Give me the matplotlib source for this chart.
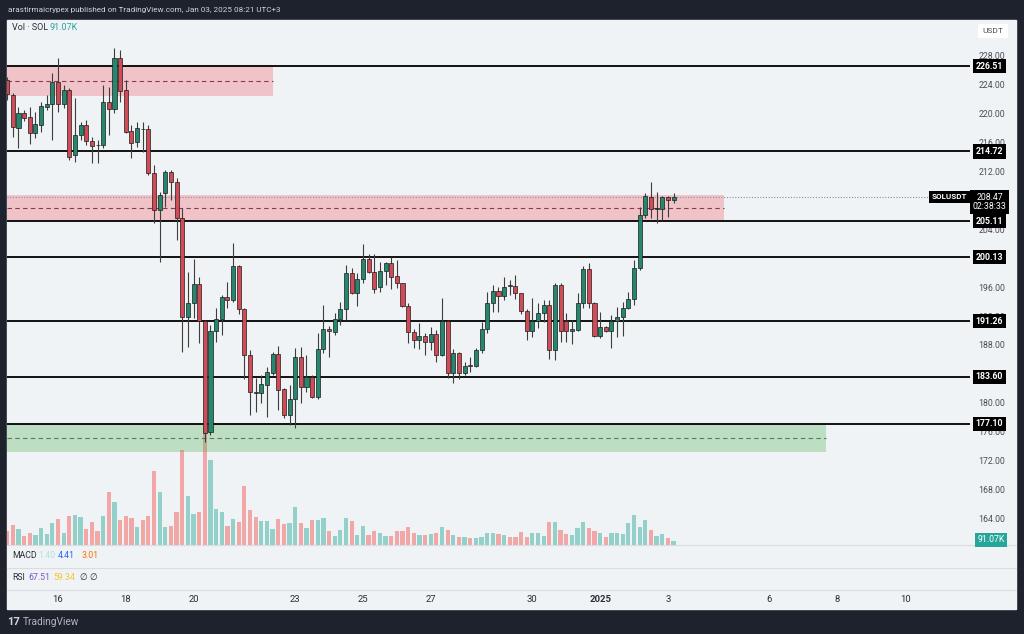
import matplotlib.pyplot as plt
from matplotlib.patches import Rectangle
from matplotlib.lines import Line2D
from matplotlib.transforms import blended_transform_factory
import numpy as np
from datetime import datetime, timedelta

plt.rcParams['font.family'] = ['Roboto', 'DejaVu Sans']

W, H = 1024, 634

# SOL/USDT 4h bars, first bar 2024-12-14 12:00
start = datetime(2024, 12, 14, 12)
bar_hours = 4

opens = [224.58, 222.51, 217.95, 220.02, 219.47, 217.26, 218.37, 220.85, 221.27, 224.30,
         221.27, 223.20, 214.23, 216.98, 218.37, 216.16, 215.61, 215.61, 221.54, 220.58,
         227.61, 223.20, 217.54, 216.02, 217.81, 217.81, 211.74, 206.63, 208.98, 211.88,
         210.50, 205.53, 191.86, 193.80, 196.42, 191.31, 175.99, 189.93, 191.59, 194.62,
         194.21, 198.90, 192.97, 186.62, 181.51, 181.38, 182.48, 184.13, 186.76, 181.93,
         178.34, 180.55, 186.34, 182.20, 183.58, 180.82, 187.45, 190.21, 189.79, 191.59,
         192.97, 197.94, 195.18, 197.11, 199.87, 198.08, 195.98, 198.21, 199.32, 197.53,
         196.56, 193.38, 189.79, 188.69, 189.24, 188.41, 189.52, 186.62, 191.31, 184.13,
         186.90, 184.13, 185.10, 185.10, 187.31, 190.21, 193.80, 195.45, 194.76, 196.14,
         196.14, 195.18, 192.69, 189.93, 191.31, 192.42, 193.52, 187.31, 196.28, 191.31,
         189.93, 190.07, 193.80, 198.49, 193.80, 189.24, 190.48, 189.93, 191.31, 191.86,
         193.11, 194.35, 198.63, 205.95, 208.43, 206.77, 206.77, 208.43, 208.01]
closes = [222.65, 218.09, 220.02, 219.33, 217.26, 218.50, 220.99, 221.27, 224.30, 221.27,
          223.20, 213.95, 216.98, 218.37, 216.16, 215.47, 215.54, 221.54, 220.58, 227.61,
          223.06, 217.40, 215.88, 217.95, 217.75, 211.74, 206.63, 208.71, 211.88, 210.50,
          205.53, 191.86, 193.80, 196.42, 191.31, 175.85, 189.93, 191.59, 194.62, 194.21,
          198.90, 192.97, 186.62, 181.51, 181.38, 182.62, 184.27, 186.76, 181.79, 178.34,
          180.55, 186.34, 182.20, 183.58, 180.82, 187.45, 190.21, 189.93, 191.59, 192.97,
          197.94, 195.18, 197.11, 199.87, 198.08, 195.73, 198.21, 199.32, 197.39, 196.56,
          193.38, 189.79, 188.69, 189.24, 188.41, 189.52, 186.62, 191.31, 184.13, 186.90,
          184.13, 185.10, 185.06, 187.31, 190.21, 193.80, 195.45, 194.76, 196.01, 196.10,
          195.18, 192.69, 189.93, 191.31, 192.42, 193.52, 187.31, 196.28, 189.93, 189.93,
          190.21, 193.80, 198.49, 193.80, 189.24, 190.48, 189.93, 191.31, 191.86, 193.11,
          194.35, 198.63, 205.95, 208.57, 206.77, 206.80, 208.43, 208.01, 208.47]
highs = [225.00, 222.78, 220.85, 220.44, 220.85, 220.16, 221.54, 222.51, 225.54, 227.61,
         223.89, 223.47, 222.09, 218.78, 219.06, 216.71, 216.30, 223.89, 223.61, 228.99,
         228.72, 224.58, 218.37, 218.78, 218.78, 218.37, 212.85, 209.12, 212.15, 212.15,
         211.05, 206.91, 198.08, 199.87, 197.39, 191.45, 190.76, 193.11, 194.90, 196.70,
         202.08, 199.04, 193.11, 187.31, 183.45, 183.86, 184.96, 187.03, 187.86, 182.07,
         182.48, 187.59, 187.72, 186.62, 183.86, 189.66, 193.52, 190.62, 192.42, 193.94,
         199.04, 198.63, 197.94, 201.94, 200.56, 200.56, 199.46, 199.46, 200.15, 199.74,
         196.56, 193.80, 190.21, 191.04, 189.66, 190.48, 190.07, 194.49, 191.45, 187.45,
         187.03, 185.65, 186.34, 187.59, 191.17, 195.31, 196.28, 196.01, 197.39, 196.97,
         197.66, 195.18, 192.97, 194.49, 193.80, 194.21, 194.21, 196.56, 196.56, 192.42,
         191.45, 195.18, 198.90, 199.32, 193.94, 192.55, 190.62, 192.14, 193.25, 193.94,
         195.31, 199.74, 207.05, 208.98, 210.50, 209.12, 208.50, 208.57, 208.98]
lows = [221.80, 216.71, 215.19, 218.92, 215.74, 216.57, 217.40, 220.44, 216.30, 220.16,
        220.71, 213.54, 213.26, 216.30, 215.61, 213.12, 213.12, 215.19, 216.98, 220.02,
        221.54, 217.26, 213.81, 215.33, 214.64, 211.46, 204.84, 199.46, 207.05, 208.01,
        202.49, 187.03, 187.72, 191.73, 188.28, 174.61, 175.58, 188.41, 189.38, 193.11,
        193.90, 192.28, 183.31, 178.34, 178.75, 179.99, 178.06, 183.86, 179.03, 177.92,
        176.96, 176.54, 179.99, 181.51, 180.70, 180.60, 186.90, 186.34, 189.38, 190.76,
        191.45, 195.00, 193.38, 196.56, 197.94, 195.18, 195.31, 196.28, 195.73, 195.87,
        193.25, 188.28, 187.59, 187.45, 186.62, 187.31, 185.65, 186.48, 183.45, 182.76,
        183.31, 183.86, 184.27, 184.96, 186.90, 189.66, 192.55, 192.55, 194.21, 194.90,
        194.35, 192.28, 188.69, 189.10, 190.35, 191.17, 186.07, 185.93, 188.41, 188.41,
        188.14, 189.90, 193.11, 193.11, 189.10, 188.97, 189.79, 187.59, 189.10, 189.24,
        192.97, 193.52, 198.35, 205.53, 205.53, 204.84, 205.26, 205.67, 207.60]
volumes_k = [327, 456, 357, 205, 281, 228, 380, 243, 509, 585,
             281, 669, 684, 631, 357, 532, 327, 669, 1201, 988,
             570, 661, 608, 403, 570, 669, 1695, 1201, 403, 433,
             760, 2166, 1117, 707, 760, 2690, 1938, 821, 760, 441,
             585, 532, 1345, 798, 631, 547, 547, 365, 585, 471,
             509, 859, 509, 380, 570, 570, 608, 327, 213, 342,
             608, 547, 228, 441, 228, 327, 266, 205, 213, 327,
             327, 403, 266, 228, 228, 251, 266, 403, 342, 228,
             190, 190, 167, 152, 175, 266, 281, 251, 228, 190,
             190, 289, 190, 266, 281, 213, 532, 532, 342, 251,
             228, 380, 532, 380, 327, 266, 175, 266, 266, 251,
             509, 684, 418, 570, 342, 205, 251, 152, 91.07]

levels = [226.51, 214.72, 205.11, 200.13, 191.26, 183.60, 177.10]
zones = [  # (low, high, end date, colour)
    (222.37, 226.51, datetime(2024, 12, 22, 8), 'red'),
    (205.11, 208.71, datetime(2025, 1, 4, 16), 'red'),
    (173.20, 177.10, datetime(2025, 1, 7, 16), 'green'),
]
last_price = 208.47
# scale labels that TradingView still shows (the ones under the level tags are hidden)
price_ticks = [164, 168, 172, 176, 180, 188, 192, 196, 204, 212, 216, 220, 224, 228]
tick_dates = [datetime(2024, 12, 16), datetime(2024, 12, 18), datetime(2024, 12, 20),
              datetime(2024, 12, 23), datetime(2024, 12, 25), datetime(2024, 12, 27),
              datetime(2024, 12, 30), datetime(2025, 1, 1), datetime(2025, 1, 3),
              datetime(2025, 1, 6), datetime(2025, 1, 8), datetime(2025, 1, 10)]
tick_labels = ['16', '18', '20', '23', '25', '27', '30', '2025', '3', '6', '8', '10']


def bar_index(d):
    return (d - start) / timedelta(hours=bar_hours)


def rect(x0, y0, x1, y1):
    return [x0 / W, 1 - y1 / H, (x1 - x0) / W, (y1 - y0) / H]


def fx(x):
    return x / W


def fy(y):
    return 1 - y / H


BG = '#f0f3f5'
FRAME = '#1e222d'
UP, DOWN = '#26876f', '#d14b57'
VUP, VDOWN = '#93d0c9', '#f2a7a7'

fig = plt.figure(figsize=(W / 100, H / 100), dpi=100, facecolor=FRAME)
fig.add_artist(Rectangle((fx(7), fy(609)), fx(1016 - 7), (609 - 20) / H,
                         transform=fig.transFigure, color=BG, zorder=0))

o, c = np.array(opens), np.array(closes)
hi, lo = np.array(highs), np.array(lows)
x = np.arange(len(o))
up = c >= o
xlim = (-0.035, 170.5)

# volume overlay (drawn under the price axes)
vax = fig.add_axes(rect(7, 20, 970, 545))
vax.set_axis_off()
vax.bar(x, volumes_k, width=0.75, color=np.where(up, VUP, VDOWN), lw=0)
vax.set_xlim(*xlim)
vax.set_ylim(0, 11970)

ax = fig.add_axes(rect(7, 20, 970, 545))
ax.patch.set_visible(False)
ax.set_xlim(*xlim)
ax.set_ylim(160.39, 232.86)
for s in ax.spines.values():
    s.set_visible(False)
ax.set_xticks([])

# zones
for z_lo, z_hi, z_end, col in zones:
    fc = '#f23645' if col == 'red' else '#4caf50'
    dc = '#8a3a48' if col == 'red' else '#4f7f5b'
    x1 = bar_index(z_end)
    ax.fill_between([xlim[0], x1], z_lo, z_hi, color=fc, alpha=0.25 if col == 'red' else 0.3,
                    lw=0, zorder=1)
    ax.plot([xlim[0], x1], [(z_lo + z_hi) / 2] * 2, color=dc, lw=0.8,
            dashes=(4, 3), zorder=1.5)

# levels
for lv in levels:
    ax.axhline(lv, color='black', lw=1.3, zorder=2)
ax.axhline(last_price, color='#8a8f99', lw=0.8, ls=(0, (1, 1.5)), zorder=2)

# candles
ax.vlines(x, lo, hi, color='#3d3d3d', lw=0.8, zorder=3)
body_lo = np.minimum(o, c)
body_h = np.maximum(np.abs(c - o), 0.13)
ax.bar(x, body_h, bottom=body_lo, width=0.72, color=np.where(up, UP, DOWN),
       edgecolor='#1c1c1c', lw=0.5, zorder=4)

# right price scale
ax.yaxis.tick_right()
ax.set_yticks(price_ticks)
ax.set_yticklabels([f'{t:.2f}' for t in price_ticks])
ax.tick_params(axis='y', length=0, pad=6, labelsize=6.3, labelcolor='#4a4e57')

tr = blended_transform_factory(ax.transAxes, ax.transData)
xr = (989.5 - 7) / 963
for lv in levels:
    ax.text(xr, lv, f'{lv:.2f}', transform=tr, ha='center', va='center', fontsize=6.3,
            color='white', fontweight='bold', zorder=10,
            bbox=dict(boxstyle='square,pad=0.3', fc='black', ec='none'))
ax.text(xr, last_price - 0.75, f'{last_price:.2f}\n02:38:33', transform=tr, ha='center',
        va='center', fontsize=6.3, color='white', linespacing=1.1, zorder=10,
        bbox=dict(boxstyle='square,pad=0.3', fc='black', ec='none'))
ax.text((949.5 - 7) / 963, last_price, 'SOLUSDT', transform=tr, ha='center', va='center',
        fontsize=5.8, color='white', fontweight='bold', zorder=10,
        bbox=dict(boxstyle='square,pad=0.3', fc='black', ec='none'))

# time axis labels
trx = blended_transform_factory(ax.transData, ax.transAxes)
for d, lab in zip(tick_dates, tick_labels):
    ax.text(bar_index(d), (545 - 600) / 525, lab, transform=trx, ha='center', va='center',
            fontsize=6.8, color='#2a2e39', fontweight='bold' if lab == '2025' else 'normal',
            clip_on=False)

# pane separators
for yy in (545, 568, 590):
    fig.add_artist(Line2D([fx(7), fx(1016)], [fy(yy), fy(yy)], color='#d9dce1', lw=0.8))

# header / legends
fig.text(fx(8), fy(10), 'arastirmaicrypex published on TradingView.com, Jan 03, 2025 08:21 UTC+3',
         color='#d1d4dc', fontsize=5.9, va='center')
fig.text(fx(12), fy(28), 'Vol · SOL', color='#2a2e39', fontsize=6.5, va='center')
fig.text(fx(50), fy(28), '91.07K', color='#26a69a', fontsize=6.5, va='center')
fig.text(fx(993), fy(31), 'USDT', color='#4a4e57', fontsize=6, va='center', ha='center',
         bbox=dict(boxstyle='square,pad=0.5', fc='white', ec='none'))
fig.text(fx(991), fy(540), '91.07K', color='white', fontsize=6.3, va='center', ha='center',
         bbox=dict(boxstyle='square,pad=0.3', fc='#26a69a', ec='none'))

fig.text(fx(12), fy(556), 'MACD', color='#2a2e39', fontsize=6.3, va='center')
fig.text(fx(38), fy(556), '1.40', color='#b7dfd9', fontsize=6.3, va='center')
fig.text(fx(58), fy(556), '4.41', color='#2962ff', fontsize=6.3, va='center')
fig.text(fx(82), fy(556), '3.01', color='#ff6d00', fontsize=6.3, va='center')
fig.text(fx(12), fy(578), 'RSI', color='#2a2e39', fontsize=6.3, va='center')
fig.text(fx(28), fy(578), '67.51', color='#7e57c2', fontsize=6.3, va='center')
fig.text(fx(53), fy(578), '59.34', color='#f5c431', fontsize=6.3, va='center')
fig.text(fx(79), fy(578), '∅', color='#2a2e39', fontsize=6.3, va='center')
fig.text(fx(89), fy(578), '∅', color='#2a2e39', fontsize=6.3, va='center')

fig.text(fx(7), fy(622), '17', color='#d1d4dc', fontsize=8, fontweight='bold', va='center')
fig.text(fx(23), fy(622), 'TradingView', color='#b2b5be', fontsize=7.3, va='center')

fig.savefig('out.png', dpi=100, facecolor=FRAME)
